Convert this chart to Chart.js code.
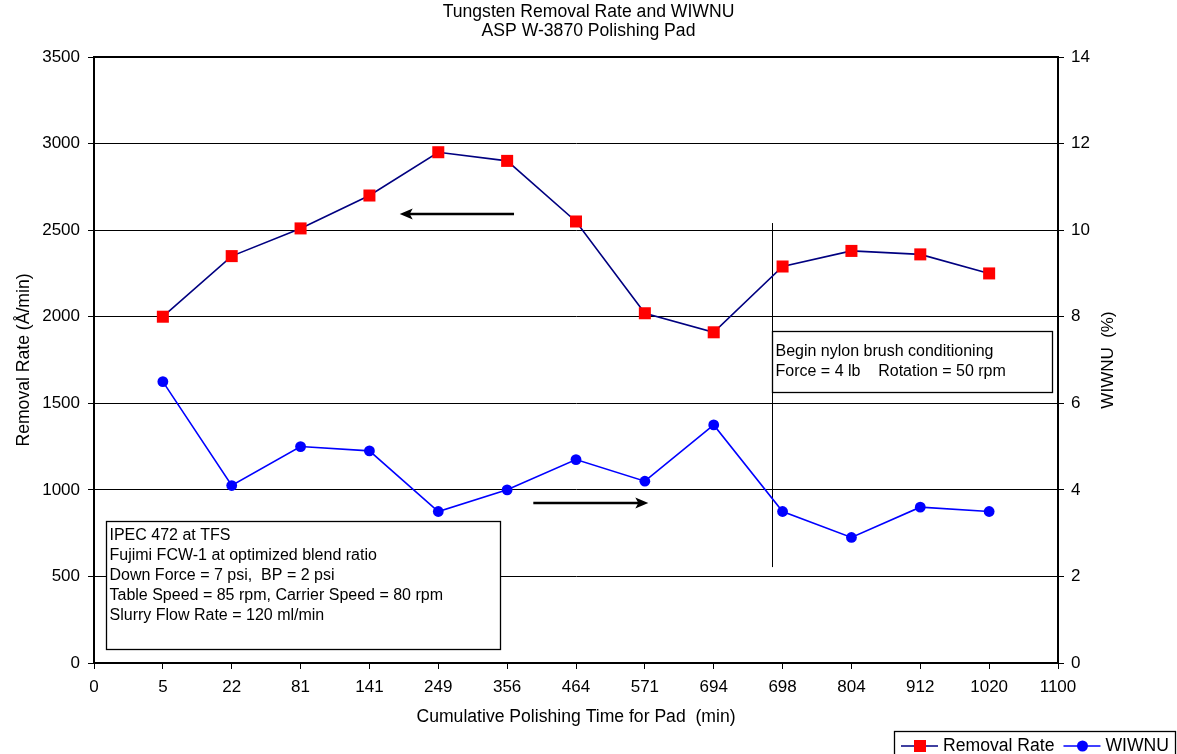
<!DOCTYPE html>
<html>
<head>
<meta charset="utf-8">
<script src="https://cdn.jsdelivr.net/npm/chart.js@4.4.1/dist/chart.umd.min.js"></script>
<style>
  html, body { margin: 0; padding: 0; background: #ffffff; }
  #wrap { width: 1177px; height: 754px; position: relative; }
  canvas { display: block; }
</style>
</head>
<body>
<div id="wrap"><canvas id="c" width="1177" height="754"></canvas></div>
<script>
// ---- Data ----
const xTickLabels = ['0', '5', '22', '81', '141', '249', '356', '464', '571', '694', '698', '804', '912', '1020', '1100'];
const pointPositions = [1, 2, 3, 4, 5, 6, 7, 8, 9, 10, 11, 12, 13];
const removalRate = [2000, 2350, 2510, 2700, 2950, 2900, 2550, 2020, 1910, 2290, 2380, 2360, 2250];
const wiwnu = [6.5, 4.1, 5.0, 4.9, 3.5, 4.0, 4.7, 4.2, 5.5, 3.5, 2.9, 3.6, 3.5];

const titleLines = ['Tungsten Removal Rate and WIWNU', 'ASP W-3870 Polishing Pad'];
const xTitle = 'Cumulative Polishing Time for Pad  (min)';
const yLeftTitle = 'Removal Rate (\u00C5/min)';
const yRightTitle = 'WIWNU  (%)';

const noteBox1 = ['IPEC 472 at TFS', 'Fujimi FCW-1 at optimized blend ratio', 'Down Force = 7 psi,  BP = 2 psi',
  'Table Speed = 85 rpm, Carrier Speed = 80 rpm', 'Slurry Flow Rate = 120 ml/min'];
const noteBox2 = ['Begin nylon brush conditioning', 'Force = 4 lb    Rotation = 50 rpm'];

const FONT = '"Liberation Sans", Arial, Helvetica, sans-serif';
const FS = 17;      // tick labels
const FS_T = 17.6;  // titles, legend
const FS_B = 16;    // note boxes

// annotation geometry in axis units (x: category position, y: left axis)
const box1Units = { x1: 0.17, x2: 5.896, y1: 822, y2: 81, firstLine: 14.5 };
const box2Units = { x1: 9.85, x2: 13.908, y1: 1917, y2: 1567, firstLine: 20 };
const brushLineUnits = { x: 9.85, y1: 2541, y2: 554 };
const arrowLeftUnits = { x1: 6.1, x2: 4.44, y: 2593 };
const arrowRightUnits = { x1: 6.38, x2: 8.05, y: 924 };

function toXY(arrX, arrY) { return arrX.map((x, i) => ({ x: x, y: arrY[i] })); }

const annotationPlugin = {
  id: 'extras',
  beforeDatasetsDraw(chart) {
    const ctx = chart.ctx;
    const xs = chart.scales.x, ys = chart.scales.y;
    ctx.save();
    ctx.strokeStyle = '#000'; ctx.lineWidth = 1;
    ctx.beginPath();
    const lx = Math.round(xs.getPixelForValue(brushLineUnits.x)) + 0.5;
    ctx.moveTo(lx, ys.getPixelForValue(brushLineUnits.y1));
    ctx.lineTo(lx, ys.getPixelForValue(brushLineUnits.y2));
    ctx.stroke();
    ctx.restore();
  },
  afterDatasetsDraw(chart) {
    const ctx = chart.ctx;
    const xs = chart.scales.x, ys = chart.scales.y;
    const ca = chart.chartArea;
    ctx.save();
    // plot frame
    ctx.strokeStyle = '#000'; ctx.lineWidth = 2;
    ctx.strokeRect(ca.left, ca.top, ca.right - ca.left, ca.bottom - ca.top);

    // arrows
    function arrow(a) {
      const x1 = xs.getPixelForValue(a.x1), x2 = xs.getPixelForValue(a.x2);
      const y = Math.round(ys.getPixelForValue(a.y));
      const dir = x2 > x1 ? 1 : -1;
      ctx.strokeStyle = '#000'; ctx.fillStyle = '#000'; ctx.lineWidth = 2.4;
      ctx.beginPath();
      ctx.moveTo(x1, y); ctx.lineTo(x2 - dir * 8, y); ctx.stroke();
      ctx.beginPath();
      ctx.moveTo(x2, y);
      ctx.lineTo(x2 - dir * 13, y - 5.5);
      ctx.lineTo(x2 - dir * 10, y);
      ctx.lineTo(x2 - dir * 13, y + 5.5);
      ctx.closePath(); ctx.fill();
    }
    arrow(arrowLeftUnits);
    arrow(arrowRightUnits);

    // text boxes
    function box(b, lines) {
      const x1 = Math.round(xs.getPixelForValue(b.x1)) + 0.5, x2 = Math.round(xs.getPixelForValue(b.x2)) + 0.5;
      const y1 = Math.round(ys.getPixelForValue(b.y1)) + 0.5, y2 = Math.round(ys.getPixelForValue(b.y2)) + 0.5;
      ctx.fillStyle = '#fff';
      ctx.fillRect(x1, y1, x2 - x1, y2 - y1);
      ctx.strokeStyle = '#000'; ctx.lineWidth = 1.3;
      ctx.strokeRect(x1, y1, x2 - x1, y2 - y1);
      ctx.fillStyle = '#000';
      ctx.font = FS_B + 'px ' + FONT;
      ctx.textAlign = 'left'; ctx.textBaseline = 'middle';
      lines.forEach((t, i) => ctx.fillText(t, x1 + 3, y1 + b.firstLine + i * 20));
    }
    box(box1Units, noteBox1);
    box(box2Units, noteBox2);

    // right axis title (reads bottom to top)
    ctx.save();
    ctx.translate(1108, (ca.top + ca.bottom) / 2);
    ctx.rotate(-Math.PI / 2);
    ctx.font = FS + 'px ' + FONT;
    ctx.fillStyle = '#000';
    ctx.textAlign = 'center'; ctx.textBaseline = 'middle';
    ctx.fillText(yRightTitle, 0, 0);
    ctx.restore();

    // legend
    const lx = 894.5, ly = 731.5, lw = 281, lh = 30;
    ctx.fillStyle = '#fff';
    ctx.fillRect(lx, ly, lw, lh);
    ctx.strokeStyle = '#000'; ctx.lineWidth = 1.3;
    ctx.strokeRect(lx, ly, lw, lh);
    const cy = 746;
    let cx = 901;
    ctx.font = FS_T + 'px ' + FONT;
    ctx.textAlign = 'left'; ctx.textBaseline = 'middle';
    chart.data.datasets.forEach((ds) => {
      ctx.strokeStyle = ds.borderColor; ctx.lineWidth = 1.5;
      ctx.beginPath(); ctx.moveTo(cx, cy); ctx.lineTo(cx + 37, cy); ctx.stroke();
      ctx.fillStyle = ds.pointBackgroundColor;
      const mx = cx + 19;
      if (ds.pointStyle === 'rect') {
        ctx.fillRect(mx - 6, cy - 6, 12, 12);
      } else {
        ctx.beginPath(); ctx.arc(mx, cy, 5.5, 0, Math.PI * 2); ctx.fill();
      }
      ctx.fillStyle = '#000';
      ctx.fillText(ds.label, cx + 42, cy);
      cx += 42 + ctx.measureText(ds.label).width + 9;
    });
    ctx.restore();
  }
};

const chart = new Chart(document.getElementById('c'), {
  type: 'line',
  data: {
    datasets: [
      {
        label: 'Removal Rate',
        data: toXY(pointPositions, removalRate),
        yAxisID: 'y',
        borderColor: '#000080',
        borderWidth: 1.6,
        pointStyle: 'rect',
        pointRadius: 8.5,
        pointHoverRadius: 8.5,
        pointBackgroundColor: '#ff0000',
        pointBorderColor: '#ff0000',
        pointBorderWidth: 0,
        tension: 0,
        fill: false
      },
      {
        label: 'WIWNU',
        data: toXY(pointPositions, wiwnu),
        yAxisID: 'y2',
        borderColor: '#0000ff',
        borderWidth: 1.6,
        pointStyle: 'circle',
        pointRadius: 5.4,
        pointHoverRadius: 5.4,
        pointBackgroundColor: '#0000ff',
        pointBorderColor: '#0000ff',
        pointBorderWidth: 0,
        tension: 0,
        fill: false
      }
    ]
  },
  options: {
    responsive: false,
    devicePixelRatio: 1,
    animation: false,
    layout: { padding: { top: 0, left: 0, right: 0, bottom: 0 } },
    plugins: {
      legend: { display: false },
      tooltip: { enabled: false },
      title: {
        display: true,
        text: titleLines,
        color: '#000',
        font: { family: FONT, size: FS_T, weight: 'normal', lineHeight: '18.5px' },
        padding: { top: 3, bottom: 17 }
      }
    },
    scales: {
      x: {
        type: 'linear',
        min: 0, max: 14,
        afterFit: (s) => { s.height = 91; },
        ticks: {
          stepSize: 1,
          autoSkip: false,
          maxRotation: 0,
          padding: 8,
          color: '#000',
          font: { family: FONT, size: FS },
          callback: (v) => xTickLabels[v]
        },
        grid: { drawOnChartArea: false, drawTicks: true, tickLength: 6, color: '#000', lineWidth: 1 },
        border: { display: true, color: '#000', width: 2 },
        title: {
          display: true, text: xTitle, color: '#000',
          font: { family: FONT, size: FS_T }, padding: { top: 0, bottom: 26 }
        }
      },
      y: {
        position: 'left',
        min: 0, max: 3500,
        afterFit: (s) => { s.width = 94; },
        ticks: { stepSize: 500, padding: 8, color: '#000', font: { family: FONT, size: FS }, callback: (v) => String(v) },
        grid: { drawOnChartArea: true, drawTicks: true, tickLength: 6, color: '#000', lineWidth: 1 },
        border: { display: true, color: '#000', width: 2 },
        title: {
          display: true, text: yLeftTitle, color: '#000',
          font: { family: FONT, size: FS_T }, padding: { top: 14, bottom: 0 }
        }
      },
      y2: {
        position: 'right',
        min: 0, max: 14,
        afterFit: (s) => { s.width = 119; },
        ticks: { stepSize: 2, padding: 7, color: '#000', font: { family: FONT, size: FS }, callback: (v) => String(v) },
        grid: { drawOnChartArea: false, drawTicks: true, tickLength: 6, color: '#000', lineWidth: 1 },
        border: { display: true, color: '#000', width: 2 }
      }
    }
  },
  plugins: [annotationPlugin]
});
</script>
</body>
</html>
